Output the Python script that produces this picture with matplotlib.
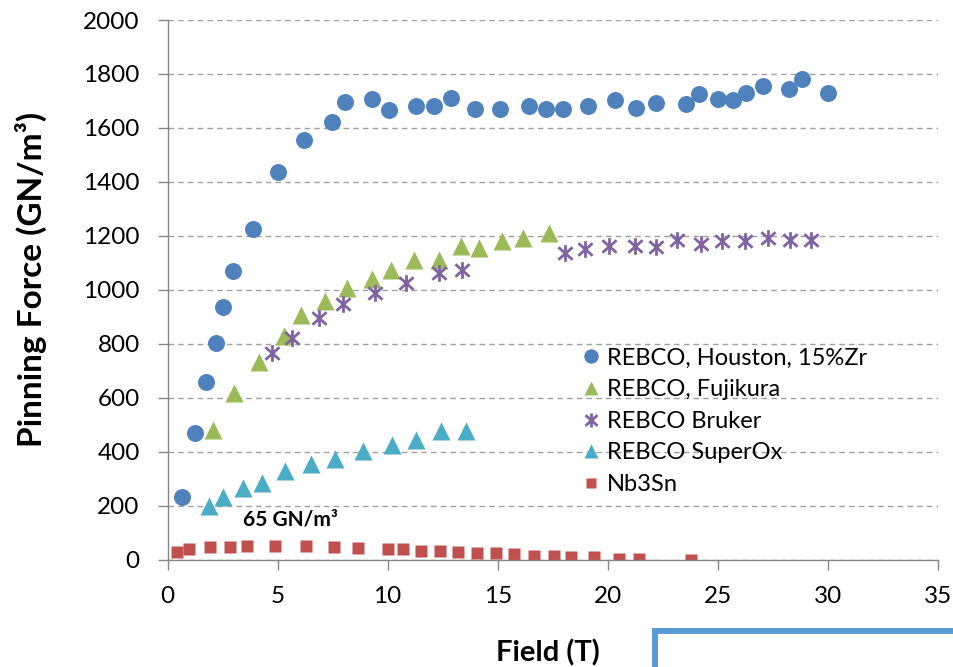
import matplotlib
matplotlib.use("Agg")
import matplotlib.pyplot as plt
from matplotlib.path import Path
from matplotlib.lines import Line2D

plt.rcParams['font.family'] = ['Lato', 'DejaVu Sans']

# ---- data -------------------------------------------------------------
houston_field = [0.64, 1.25, 1.74, 2.2, 2.53, 2.98, 3.89, 5.03, 6.18, 7.46, 8.04,
                 9.29, 10.08, 11.31, 12.1, 12.89, 13.97, 15.09, 16.42, 17.2, 17.96,
                 19.1, 20.31, 21.3, 22.2, 23.56, 24.16, 25.02, 25.67, 26.3, 27.06,
                 28.24, 28.84, 30.0]
houston_force = [231, 471, 660, 803, 938, 1068, 1227, 1437, 1557, 1621, 1697,
                 1709, 1666, 1683, 1683, 1712, 1671, 1671, 1683, 1671, 1671,
                 1683, 1703, 1675, 1693, 1687, 1727, 1708, 1705, 1728, 1757,
                 1743, 1782, 1728]

fujikura_field = [2.05, 3.01, 4.16, 5.28, 6.08, 7.16, 8.14, 9.29, 10.15, 11.21,
                  12.31, 13.32, 14.15, 15.21, 16.16, 17.32]
fujikura_force = [481, 617, 734, 827, 905, 960, 1007, 1041, 1072, 1112,
                  1109, 1161, 1155, 1180, 1192, 1211]

bruker_field = [4.76, 5.67, 6.86, 7.96, 9.44, 10.83, 12.31, 13.4, 18.05, 18.95,
                20.04, 21.25, 22.2, 23.14, 24.22, 25.17, 26.23, 27.26, 28.27, 29.25]
bruker_force = [765, 821, 895, 948, 988, 1025, 1062, 1075, 1135, 1151,
                1164, 1164, 1157, 1186, 1171, 1180, 1180, 1192, 1186, 1186]

superox_field = [1.88, 2.53, 3.41, 4.31, 5.35, 6.5, 7.62, 8.87, 10.2, 11.31,
                 12.42, 13.55]
superox_force = [200, 233, 265, 285, 330, 355, 372, 404, 425, 444, 475, 477]

nb3sn_field = [0.44, 0.99, 1.92, 2.83, 3.61, 4.9, 6.3, 7.55, 8.67, 10.0, 10.68,
               11.51, 12.37, 13.21, 14.08, 14.94, 15.74, 16.64, 17.55, 18.35,
               19.39, 20.49, 21.44, 23.77]
nb3sn_force = [29, 38, 48, 48, 52, 52, 52, 48, 42, 38, 38,
               33, 33, 27, 23, 23, 20, 13, 13, 9,
               9, 3, 3, 0]

series_labels = ["REBCO, Houston, 15%Zr", "REBCO, Fujikura", "REBCO Bruker",
                 "REBCO SuperOx", "Nb3Sn"]
x_ticks = [0, 5, 10, 15, 20, 25, 30, 35]
y_ticks = [0, 200, 400, 600, 800, 1000, 1200, 1400, 1600, 1800, 2000]
annotation_text = "65 GN/m³"

# ---- styles -----------------------------------------------------------
blue = "#4F81BD"
green = "#9BBB59"
purple = "#8064A2"
cyan = "#4BACC6"
red = "#C0504D"
axis_grey = "#868686"

# asterisk: vertical bar crossed by an X
star = Path([(0, -1), (0, 1), (-0.85, -0.75), (0.85, 0.75), (-0.85, 0.75), (0.85, -0.75)],
            [Path.MOVETO, Path.LINETO, Path.MOVETO, Path.LINETO, Path.MOVETO, Path.LINETO])

fig = plt.figure(figsize=(9.54, 6.67), dpi=100)
ax = fig.add_axes([0.1756, 0.161, 0.8076, 0.809])

ax.set_axisbelow(True)
ax.yaxis.grid(True, color="#a0a0a0", linestyle=(0, (4, 3)), linewidth=1.0)

h1, = ax.plot(houston_field, houston_force, ls="none", marker="o", ms=12.2,
              mfc=blue, mec="none", label=series_labels[0])
h2, = ax.plot(fujikura_field, fujikura_force, ls="none", marker="^", ms=12.5,
              mfc=green, mec="none", label=series_labels[1])
h3, = ax.plot(bruker_field, bruker_force, ls="none", marker=star, ms=12,
              mec=purple, mew=2.0, label=series_labels[2])
h4, = ax.plot(superox_field, superox_force, ls="none", marker="^", ms=12.5,
              mfc=cyan, mec="none", label=series_labels[3])
h5, = ax.plot(nb3sn_field, nb3sn_force, ls="none", marker="s", ms=9.3,
              mfc=red, mec="none", label=series_labels[4])

ax.set_xlim(0, 35)
ax.set_ylim(0, 2000)
ax.set_xticks(x_ticks)
ax.set_yticks(y_ticks)
ax.set_xticklabels([str(v) for v in x_ticks])
ax.set_yticklabels([str(v) for v in y_ticks])
ax.tick_params(axis="both", direction="out", length=7, width=1, color=axis_grey,
               labelsize=17.5, labelcolor="#000000")
ax.tick_params(axis="y", pad=13)
ax.tick_params(axis="x", pad=12)

for side in ("top", "right"):
    ax.spines[side].set_visible(False)
for side in ("left", "bottom"):
    ax.spines[side].set_color(axis_grey)
    ax.spines[side].set_linewidth(1.0)

ax.set_xlabel("Field (T)", fontsize=21, fontweight="bold")
ax.set_ylabel("Pinning Force (GN/m³)", fontsize=24, fontweight="bold")
ax.xaxis.set_label_coords(0.494, -0.148)
ax.yaxis.set_label_coords(-0.157, 0.52)

ax.text(3.42, 147, annotation_text, fontsize=15, fontweight="bold",
        ha="left", va="center")

leg = ax.legend(handles=[h1, h2, h3, h4, h5], loc="upper left",
                bbox_to_anchor=(0.537, 0.393), frameon=False, fontsize=17,
                handlelength=0.8, handletextpad=0.3, labelspacing=0.45,
                markerscale=0.85, borderaxespad=0, borderpad=0)

# partial outline of a neighbouring panel along the lower right edge
fig.add_artist(Line2D([655 / 954, 655 / 954, 1.0], [0.0, 1 - 631 / 667, 1 - 631 / 667],
                      transform=fig.transFigure, color="#5B9BD5", lw=4.3,
                      solid_joinstyle="miter", solid_capstyle="butt"))

fig.savefig("out.png", dpi=100)
